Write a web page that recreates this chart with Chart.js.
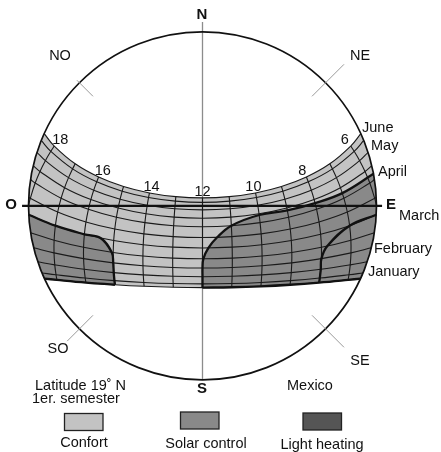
<!DOCTYPE html>
<html>
<head>
<meta charset="utf-8">
<script src="https://cdn.jsdelivr.net/npm/chart.js@4.4.1/dist/chart.umd.min.js"></script>
<style>
  html, body { margin: 0; padding: 0; background: #fff; overflow: hidden; }
  canvas { display: block; }
</style>
</head>
<body>
<canvas id="sunChart" width="441" height="452"></canvas>
<script>
// Sun path diagram, latitude 19 N, first semester (Mexico)
const latitude = 19;

// declination of each date curve, from the bottom (January) to the top (June)
const curveDeclination = [-23.3, -21.4, -17.7, -13.2, -8.4, -2.8, 2.6, 8.2, 12.6, 16.9, 20.8, 23.1];

// solar hours drawn as grid lines, and the ones that get a number
const hours = [6, 7, 8, 9, 10, 11, 12, 13, 14, 15, 16, 17, 18];
const labelledHours = [6, 8, 10, 12, 14, 16, 18];

const monthNames = ['June', 'May', 'April', 'March', 'February', 'January'];

// zone outlines as [declination, hour], 'rise' / 'set' = on the horizon
const solarControlMorning = [[10, 'rise'], [10.3, 7], [11, 8], [11.5, 9], [12, 10], [8.2, 11], [2.6, 11.5], [-2.8, 11.8], [-8.4, 11.97], [-13.2, 12], [-17.7, 12], [-21.4, 12], [-23.3, 12]];
const solarControlAfternoon = [[-2.8, 'set'], [-2.8, 17], [-2.8, 16], [-2.8, 15.45], [-8.4, 15.05], [-13.2, 15], [-17.7, 15], [-21.4, 15], [-23.3, 15]];
const lightHeating = [[-2.8, 'rise'], [-2.8, 7], [-8.4, 7.8], [-13.2, 8], [-17.7, 8], [-21.4, 8], [-23.3, 8]];

const legendNames = ['Confort', 'Solar control', 'Light heating'];
const zoneColors = ['#c3c3c3', '#898989', '#555555'];

// ---- sky geometry ----
const rad = Math.PI / 180;

function halfDay(dec) {
  const c = -Math.tan(latitude * rad) * Math.tan(dec * rad);
  return Math.acos(Math.max(-1, Math.min(1, c))) / rad / 15;
}
function hourOf(dec, h) {
  if (h === 'rise') return 12 - halfDay(dec);
  if (h === 'set') return 12 + halfDay(dec);
  return h;
}
// equidistant projection, horizon = circle of radius 1, north up, east right
function skyPoint(dec, h) {
  const H = (hourOf(dec, h) - 12) * 15 * rad;
  const d = dec * rad, p = latitude * rad;
  const up = Math.sin(p) * Math.sin(d) + Math.cos(p) * Math.cos(d) * Math.cos(H);
  const east = -Math.cos(d) * Math.sin(H);
  const north = Math.sin(d) * Math.cos(p) - Math.cos(d) * Math.cos(H) * Math.sin(p);
  const alt = Math.asin(Math.max(-1, Math.min(1, up)));
  const r = (Math.PI / 2 - alt) / (Math.PI / 2);
  const len = Math.hypot(east, north) || 1;
  return {x: r * east / len, y: r * north / len};
}
function curveHours(dec) {
  const rise = hourOf(dec, 'rise'), set = hourOf(dec, 'set');
  return ['rise', ...hours.filter(h => h > rise + 0.12 && h < set - 0.12), 'set'];
}
function hourLine(h) {
  const pts = [];
  // declination where this hour line meets the horizon
  const edge = Math.atan(-Math.cos((h - 12) * 15 * rad) / Math.tan(latitude * rad)) / rad;
  if (edge > curveDeclination[0]) pts.push(skyPoint(edge, h));
  curveDeclination.forEach(dec => {
    if (h > hourOf(dec, 'rise') && h < hourOf(dec, 'set')) pts.push(skyPoint(dec, h));
  });
  return pts;
}
const nodes = list => list.map(([d, h]) => skyPoint(d, h));

const topDec = curveDeclination[curveDeclination.length - 1];
const janDec = curveDeclination[0];
const innerDec = curveDeclination.slice(1, -1);

function zonePolygon(outline, side) {
  const lastHour = outline[outline.length - 1][1];
  const zoneTop = outline[0][0];
  const jan = curveHours(janDec).filter(h => h === side || (side === 'rise' ? h < lastHour : h > lastHour));
  if (side === 'rise') jan.reverse();
  const edge = curveDeclination.filter(d => d > janDec && d < zoneTop).map(d => [d, side]);
  return [...outline, ...jan.map(h => [janDec, h]), ...edge, outline[0]];
}

const bandNodes = [
  ...curveHours(topDec).map(h => [topDec, h]),
  ...innerDec.slice().reverse().map(d => [d, 'set']),
  ...curveHours(janDec).reverse().map(h => [janDec, h]),
  ...innerDec.map(d => [d, 'rise']),
  [topDec, 'rise']
];
const janMorning = curveHours(janDec).filter(h => h === 'rise' || h <= 12).reverse().map(h => [janDec, h]);
const janAfternoon = curveHours(janDec).filter(h => h === 'set' || h >= 15).map(h => [janDec, h]);

// ---- datasets ----
function lineSet(points, color, width, order, extra) {
  return Object.assign({
    data: points, showLine: true, borderColor: color, borderWidth: width,
    pointRadius: 0, tension: 0.4, fill: false, order: order
  }, extra || {});
}
function areaSet(points, color, order) {
  return lineSet(points, 'rgba(0,0,0,0)', 0, order, {fill: 'shape', backgroundColor: color});
}
const unitPx = ctx => {
  const s = ctx.chart.scales.x;
  return s.getPixelForValue(1) - s.getPixelForValue(0);
};

const datasets = [];
datasets.push(areaSet(nodes(bandNodes), zoneColors[0], 20));
datasets.push(areaSet(nodes(zonePolygon(solarControlMorning, 'rise')), zoneColors[1], 19));
datasets.push(areaSet(nodes(zonePolygon(solarControlAfternoon, 'set')), zoneColors[1], 19));
datasets.push(areaSet(nodes(zonePolygon(lightHeating, 'rise')), zoneColors[2], 19));

// white ring just outside the horizon to trim the fills
datasets.push({data: [{x: 0, y: 0}], showLine: false, order: 18,
  pointRadius: ctx => unitPx(ctx) + 7, pointBorderWidth: 12,
  pointBorderColor: '#ffffff', pointBackgroundColor: 'rgba(0,0,0,0)'});

// north-south axis (grey, under the grid)
datasets.push(lineSet([{x: 0, y: 1.056}, {x: 0, y: -1}], '#8c8c8c', 1.3, 17, {tension: 0}));

curveDeclination.forEach(dec => {
  datasets.push(lineSet(nodes(curveHours(dec).map(h => [dec, h])), '#1a1a1a', 1.1, 16));
});
hours.forEach(h => {
  datasets.push(lineSet(hourLine(h), '#1a1a1a', 1.1, 16));
});

[solarControlMorning, solarControlAfternoon, lightHeating, janMorning, janAfternoon].forEach(o => {
  datasets.push(lineSet(nodes(o), '#111', 2.3, 15));
});

// horizon
datasets.push({data: [{x: 0, y: 0}], showLine: false, order: 14,
  pointRadius: unitPx, pointBorderWidth: 1.7,
  pointBorderColor: '#111', pointBackgroundColor: 'rgba(0,0,0,0)'});

// NO, NE, SO, SE ticks
const diagonalAz = [315, 45, 225, 135];
const diagonalOuter = [1.02, 1.15, 1.10, 1.15];
diagonalAz.forEach((az, i) => {
  const s = Math.sin(az * rad), c = Math.cos(az * rad);
  datasets.push(lineSet([{x: 0.89 * s, y: 0.89 * c}, {x: diagonalOuter[i] * s, y: diagonalOuter[i] * c}], '#9a9a9a', 1, 13, {tension: 0}));
});

// east-west axis on top
datasets.push(lineSet([{x: -1.037, y: 0}, {x: 1.032, y: 0}], '#111', 2.2, 12, {tension: 0}));

// ---- texts ----
const fontFamily = '"Liberation Sans", Arial, Helvetica, sans-serif';
const compassLetters = [['N', 202, 15], ['S', 202, 389], ['O', 11, 205], ['E', 391, 205]];
const interCardinal = [['NO', 60, 56], ['NE', 360, 56], ['SO', 58, 349], ['SE', 360, 361]];
const monthLabelPos = [[362, 128], [371, 146], [378, 172], [399, 216], [374, 249], [368, 272]];
const legendBoxes = [[64.5, 413.5], [180.5, 412], [303, 413]];
const legendTextPos = [[84, 443], [206, 444], [322, 445]];

const textPlugin = {
  id: 'sunText',
  afterDatasetsDraw(chart) {
    const {ctx, scales: {x, y}} = chart;
    ctx.save();
    ctx.fillStyle = '#111';
    ctx.textBaseline = 'middle';
    ctx.textAlign = 'center';

    ctx.font = 'bold 15px ' + fontFamily;
    compassLetters.forEach(([t, px, py]) => ctx.fillText(t, px, py));

    ctx.font = '14.5px ' + fontFamily;
    interCardinal.forEach(([t, px, py]) => ctx.fillText(t, px, py));

    labelledHours.forEach(h => {
      const p = skyPoint(topDec, h);
      ctx.fillText(String(h), x.getPixelForValue(p.x) - p.x * 7, y.getPixelForValue(p.y) - 6);
    });

    ctx.textAlign = 'left';
    monthNames.forEach((m, i) => ctx.fillText(m, monthLabelPos[i][0], monthLabelPos[i][1]));

    ctx.fillText('Latitude 19\u02DA N', 35, 386);
    ctx.fillText('1er. semester', 32, 399);
    ctx.fillText('Mexico', 287, 386);

    ctx.textAlign = 'center';
    legendNames.forEach((name, i) => {
      const [bx, by] = legendBoxes[i];
      ctx.fillStyle = zoneColors[i];
      ctx.fillRect(bx, by, 38.5, 17);
      ctx.strokeStyle = '#222';
      ctx.lineWidth = 1.3;
      ctx.strokeRect(bx, by, 38.5, 17);
      ctx.fillStyle = '#111';
      ctx.fillText(name, legendTextPos[i][0], legendTextPos[i][1]);
    });
    ctx.restore();
  }
};

new Chart(document.getElementById('sunChart'), {
  type: 'scatter',
  data: {datasets},
  options: {
    responsive: false,
    animation: false,
    events: [],
    layout: {padding: 0},
    plugins: {legend: {display: false}, tooltip: {enabled: false}},
    scales: {
      x: {type: 'linear', display: false, min: -1.1638, max: 1.3707},
      y: {type: 'linear', display: false, min: -1.4149, max: 1.1828}
    }
  },
  plugins: [textPlugin]
});
</script>
</body>
</html>
